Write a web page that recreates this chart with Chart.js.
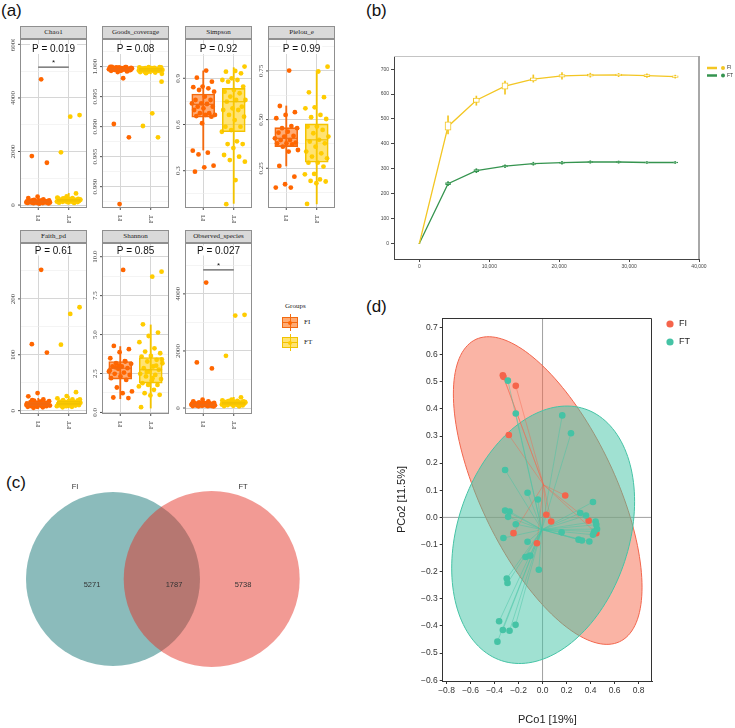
<!DOCTYPE html>
<html>
<head>
<meta charset="utf-8">
<script src="https://cdn.jsdelivr.net/npm/chart.js@4.4.1/dist/chart.umd.min.js"></script>
<style>
  body { margin: 0; width: 735px; height: 728px; position: relative; overflow: hidden; background: #fff; font-family: "Liberation Sans", Arial, sans-serif; }
  canvas { position: absolute; }
  .tag { position: absolute; font-size: 17px; color: #111; line-height: 1; }
  .strip { position: absolute; height: 13px; box-sizing: border-box; background: #d9d9d9; border: 1px solid #8f8f8f; font: 7px "Liberation Serif", serif; color: #1a1a1a; text-align: center; line-height: 11px; }
  .leg { position: absolute; font: 7px "Liberation Serif", serif; color: #1a1a1a; }
  .abs { position: absolute; }
</style>
</head>
<body>
<div class="tag" style="left:1px;top:2px">(a)</div>
<div class="tag" style="left:366px;top:2px">(b)</div>
<div class="tag" style="left:6px;top:474px">(c)</div>
<div class="tag" style="left:366px;top:298px">(d)</div>

<!-- groups legend of panel (a) -->
<div class="leg" style="left:285px;top:302px">Groups</div>
<div class="abs" style="left:289.5px;top:314px;width:1px;height:17px;background:#f26a10"></div>
<div class="abs" style="left:282px;top:317px;width:16px;height:11px;box-sizing:border-box;border:1px solid #f26a10;background:rgba(255,102,0,0.55)"></div>
<div class="abs" style="left:282px;top:322px;width:16px;height:1px;background:#f26a10"></div>
<div class="abs" style="left:288px;top:320.5px;width:4px;height:4px;border-radius:50%;background:#ff6600"></div>
<div class="leg" style="left:304px;top:318px">FI</div>
<div class="abs" style="left:289.5px;top:334px;width:1px;height:17px;background:#f2c200"></div>
<div class="abs" style="left:282px;top:337px;width:16px;height:11px;box-sizing:border-box;border:1px solid #f2c200;background:rgba(255,204,0,0.55)"></div>
<div class="abs" style="left:282px;top:342px;width:16px;height:1px;background:#f2c200"></div>
<div class="abs" style="left:288px;top:340.5px;width:4px;height:4px;border-radius:50%;background:#ffcc00"></div>
<div class="leg" style="left:304px;top:338px">FT</div>

<script>
// ---------- (a) alpha diversity ----------
const groups = ['FI', 'FT'];
const alphaNames = ['Chao1', 'Goods_coverage', 'Simpson', 'Pielou_e', 'Faith_pd', 'Shannon', 'Observed_species'];
const alphaP = ['P = 0.019', 'P = 0.08', 'P = 0.92', 'P = 0.99', 'P = 0.61', 'P = 0.85', 'P = 0.027'];
const alphaTicks = [
  [0, 2000, 4000, 6000],
  [0.980, 0.985, 0.990, 0.995, 1.000],
  [0.3, 0.6, 0.9],
  [0.25, 0.50, 0.75],
  [0, 100, 200],
  [0, 2.5, 5, 7.5, 10],
  [0, 2000, 4000]
];
const alphaTickLabels = [
  ['0', '2000', '4000', '6000'],
  ['0.980', '0.985', '0.990', '0.995', '1.000'],
  ['0.3', '0.6', '0.9'],
  ['0.25', '0.50', '0.75'],
  ['0', '100', '200'],
  ['0.0', '2.5', '5.0', '7.5', '10.0'],
  ['0', '2000', '4000']
];
const alphaRange = [[-110, 6200], [0.97645, 1.0046], [0.058, 1.155], [0.046, 0.914], [-6, 300], [-0.1, 10.88], [-210, 5783]];

const chao1FI = [4694, 1830, 1580, 311, 260, 215, 190, 170, 160, 150, 145, 140, 135, 130, 125, 120, 118, 115, 110, 105, 100, 98, 95, 90, 85, 80, 75, 70, 60, 50, 140, 125, 110, 95, 160, 175];
const chao1FT = [3360, 3300, 1968, 435, 320, 280, 260, 245, 230, 220, 210, 205, 200, 195, 190, 185, 180, 175, 170, 165, 160, 155, 150, 145, 140, 135, 130, 125, 120, 110, 100, 90, 80, 240, 215, 190, 170, 150, 130, 260, 200, 180];
const goodsFI = [0.99806, 0.99044, 0.98822, 0.97711, 0.99995, 0.9999, 0.99985, 0.9998, 0.99975, 0.9997, 0.99965, 0.9996, 0.99955, 0.9995, 0.99945, 0.9994, 0.99935, 0.9993, 0.9999, 0.9998, 0.9997, 0.9996, 0.9995, 0.9994, 0.99985, 0.99975, 0.99965, 0.99955, 0.99945, 0.99935, 0.99995, 0.9992, 0.9991];
const goodsFT = [0.9975, 0.99222, 0.99011, 0.98822, 0.9999, 0.99985, 0.9998, 0.99975, 0.9997, 0.99965, 0.9996, 0.99955, 0.9995, 0.99945, 0.9994, 0.99935, 0.9993, 0.9992, 0.9991, 0.999, 0.9989, 0.99985, 0.99975, 0.99965, 0.99955, 0.99945, 0.99935, 0.99925, 0.99915, 0.9999, 0.9997, 0.9995, 0.9993, 0.99905, 0.9988, 0.9996, 0.9994];
const simpsonFI = [0.95, 0.904, 0.878, 0.846, 0.842, 0.835, 0.824, 0.813, 0.781, 0.759, 0.759, 0.737, 0.737, 0.733, 0.716, 0.716, 0.705, 0.694, 0.673, 0.673, 0.662, 0.662, 0.655, 0.651, 0.608, 0.43, 0.417, 0.406, 0.333, 0.322, 0.294];
const simpsonFT = [0.976, 0.948, 0.943, 0.932, 0.9, 0.889, 0.889, 0.878, 0.846, 0.824, 0.813, 0.803, 0.781, 0.759, 0.759, 0.748, 0.716, 0.705, 0.694, 0.694, 0.662, 0.651, 0.629, 0.586, 0.586, 0.564, 0.553, 0.491, 0.473, 0.473, 0.447, 0.402, 0.391, 0.369, 0.359, 0.239, 0.083];
const pielouFI = [0.752, 0.57, 0.538, 0.524, 0.507, 0.467, 0.456, 0.456, 0.438, 0.433, 0.416, 0.413, 0.404, 0.395, 0.395, 0.382, 0.378, 0.378, 0.373, 0.361, 0.344, 0.336, 0.262, 0.207, 0.168, 0.151, 0.151];
const pielouFT = [0.772, 0.747, 0.64, 0.615, 0.563, 0.558, 0.524, 0.512, 0.503, 0.464, 0.464, 0.447, 0.43, 0.413, 0.396, 0.387, 0.378, 0.361, 0.336, 0.327, 0.31, 0.301, 0.279, 0.279, 0.259, 0.221, 0.219, 0.193, 0.185, 0.182, 0.173, 0.067];
const faithFI = [252, 119, 104, 31.5, 25.6, 20, 18, 17, 16, 15, 14, 14, 13, 13, 12, 12, 11, 11, 10, 10, 9, 9, 8, 8, 7, 7, 6, 5, 15, 13, 11, 9, 12, 10, 16, 19];
const faithFT = [185, 173, 118, 33, 26, 22, 20, 19, 18, 17, 16, 15, 15, 14, 14, 13, 13, 12, 12, 11, 11, 10, 10, 9, 9, 8, 8, 7, 6, 18, 16, 14, 12, 10, 20, 17, 13, 11];
const shannonFI = [9.15, 4.27, 4.06, 3.87, 3.48, 3.27, 3.16, 3.12, 2.95, 2.95, 2.84, 2.8, 2.63, 2.56, 2.48, 2.41, 2.31, 2.2, 2.09, 1.6, 1.35, 1.24, 0.96, 0.92, 3.0, 2.7, 3.3, 2.9];
const shannonFT = [9.04, 8.72, 5.66, 5.13, 4.91, 4.51, 4.12, 3.91, 3.8, 3.63, 3.59, 3.38, 3.27, 3.16, 2.95, 2.84, 2.74, 2.63, 2.48, 2.41, 2.31, 2.14, 2.05, 1.88, 1.77, 1.77, 1.67, 1.45, 1.24, 1.13, 1.09, 0.34, 3.0, 2.6, 3.4, 2.2];
const obsFI = [4396, 1597, 1388, 290, 233, 233, 200, 180, 170, 160, 150, 145, 140, 130, 125, 120, 115, 110, 105, 100, 95, 90, 85, 80, 75, 70, 65, 60, 55, 140, 120, 100, 160, 110];
const obsFT = [3265, 3241, 1830, 373, 290, 270, 250, 240, 230, 220, 210, 200, 195, 190, 185, 180, 175, 170, 165, 160, 155, 150, 145, 140, 135, 130, 120, 110, 100, 90, 80, 70, 60, 250, 210, 180, 150, 120, 230, 200];

// box stats: [lower whisker, q1, median, q3, upper whisker]
const chao1BoxFI = [50, 95, 125, 155, 311], chao1BoxFT = [80, 140, 180, 215, 435];
const goodsBoxFI = [0.9991, 0.9994, 0.99955, 0.99975, 1.0], goodsBoxFT = [0.9988, 0.9992, 0.99945, 0.9997, 0.99995];
const simpsonBoxFI = [0.434, 0.647, 0.731, 0.798, 0.948], simpsonBoxFT = [0.088, 0.553, 0.748, 0.835, 0.969];
const pielouBoxFI = [0.262, 0.361, 0.404, 0.459, 0.57], pielouBoxFT = [0.067, 0.281, 0.396, 0.478, 0.747];
const faithBoxFI = [4, 9, 11.5, 15, 22], faithBoxFT = [5, 10, 13, 17, 26];
const shannonBoxFI = [0.88, 2.14, 2.84, 3.27, 4.23], shannonBoxFT = [0.28, 1.88, 2.74, 3.53, 5.62];
const obsBoxFI = [50, 85, 115, 150, 290], obsBoxFT = [60, 130, 175, 220, 373];
const chao1Sig = 5150, obsSig = 4840;

// ---------- (b) rarefaction ----------
const rareX = [0, 4100, 8150, 12250, 16300, 20400, 24450, 28500, 32550, 36600];
const rareFI = [0, 470, 575, 632, 660, 673, 676, 677, 674, 670];
const rareFIq1 = [0, 455, 566, 620, 653, 668, 672, 674, 670, 667];
const rareFIq3 = [0, 488, 584, 645, 665, 678, 680, 680, 678, 673];
const rareFIlo = [0, 440, 555, 600, 648, 660, 668, 670, 667, 664];
const rareFIhi = [0, 512, 592, 652, 677, 686, 684, 683, 681, 676];
const rareFT = [0, 240, 292, 310, 320, 324, 327, 327, 325, 325];
const rareFTq1 = [0, 236, 288, 307, 317, 321, 325, 325, 323, 323];
const rareFTq3 = [0, 244, 296, 313, 323, 327, 329, 329, 327, 327];
const rareFTlo = [0, 232, 284, 304, 314, 318, 322, 322, 321, 321];
const rareFThi = [0, 248, 300, 316, 326, 330, 332, 331, 329, 329];
const rareXTicks = [0, 10000, 20000, 30000, 40000];
const rareYTicks = [0, 100, 200, 300, 400, 500, 600, 700];

// ---------- (c) venn ----------
const vennNames = ['FI', 'FT'];
const vennCounts = ['5271', '1787', '5738'];

// ---------- (d) PCoA ----------
const pcoaFIx = [-0.331, -0.326, -0.223, -0.281, 0.189, 0.031, 0.072, 0.384, -0.242, -0.047, 0.448];
const pcoaFIy = [0.524, 0.518, 0.485, 0.304, 0.081, 0.010, -0.015, -0.012, -0.058, -0.095, -0.058];
const pcoaFTx = [-0.289, -0.223, 0.164, 0.237, -0.312, -0.125, -0.039, -0.312, -0.275, -0.287, -0.223, -0.326, -0.125, 0.159, 0.314, 0.362, 0.420, 0.442, 0.448, 0.454, 0.431, 0.420, 0.300, 0.328, 0.390, -0.142, -0.103, -0.031, -0.298, -0.292, -0.362, -0.331, -0.275, -0.225, -0.376];
const pcoaFTy = [0.504, 0.383, 0.376, 0.310, 0.175, 0.091, 0.066, 0.025, 0.022, 0.002, -0.025, -0.076, -0.090, -0.055, 0.016, 0.007, 0.057, -0.015, -0.027, -0.043, -0.052, -0.064, -0.082, -0.085, -0.089, -0.146, -0.141, -0.193, -0.225, -0.242, -0.383, -0.415, -0.418, -0.396, -0.458];
const pcoaFICentroid = [0.008, 0.12];
const pcoaFTCentroid = [-0.006, -0.045];
// confidence ellipses: [cx, cy, sdx, sdy, r]
const ellipseFI = [0.043, 0.099, 0.786, 0.567, -0.628];
const ellipseFT = [0.005, -0.064, 0.762, 0.4745, 0.259];
const pcoaXTicks = [-0.8, -0.6, -0.4, -0.2, 0, 0.2, 0.4, 0.6, 0.8];
const pcoaYTicks = [-0.6, -0.5, -0.4, -0.3, -0.2, -0.1, 0, 0.1, 0.2, 0.3, 0.4, 0.5, 0.6, 0.7];

const SANS = '"Liberation Sans", Arial, sans-serif';
const SERIF = '"Liberation Serif", serif';
const FI_PT = '#ff6600', FT_PT = '#ffcc00';
const FI_LINE = '#f26a10', FT_LINE = '#f2c200';
const FI_BOX = 'rgba(255,102,0,0.55)', FT_BOX = 'rgba(255,204,0,0.55)';
const BOX_W = 23;

const jitter = i => (((i + 1) * 0.6180339887) % 1 - 0.5) * 0.8;
const xy = (xs, ys) => xs.map((x, i) => ({x: x, y: ys[i]}));
const span = (xs, lo, hi) => xs.map((x, i) => ({x: x, y: [lo[i], hi[i]]}));

function makeCanvas(left, top, w, h) {
  const cv = document.createElement('canvas');
  cv.width = w; cv.height = h;
  cv.style.left = left + 'px'; cv.style.top = top + 'px';
  document.body.appendChild(cv);
  return cv;
}

const panelLeft = [20, 102, 185, 268, 20, 102, 185];
const panelTop = [39, 39, 39, 39, 243, 243, 243];
const panelH = [169, 169, 169, 169, 171, 171, 171];
const panelW = 67;

function alphaPanel(k, fi, ft, boxFI, boxFT, sig) {
  const left = panelLeft[k], top = panelTop[k], h = panelH[k];
  const strip = document.createElement('div');
  strip.className = 'strip';
  strip.style.left = left + 'px';
  strip.style.top = (top - 13) + 'px';
  strip.style.width = panelW + 'px';
  strip.textContent = alphaNames[k];
  document.body.appendChild(strip);

  const cv = makeCanvas(left - 20, top, panelW + 20, h + 22);
  const majors = alphaTicks[k];
  const step = majors[1] - majors[0];
  const [ymin, ymax] = alphaRange[k];
  const minors = [];
  for (let v = majors[0] - step / 2; v < ymax; v += step) if (v > ymin) minors.push(v);

  const datasets = [
    { type: 'scatter', data: fi.map((v, i) => ({x: 1 + jitter(i), y: v})), backgroundColor: FI_PT, pointRadius: 2.4, borderWidth: 0, order: 1 },
    { type: 'scatter', data: ft.map((v, i) => ({x: 2 + jitter(i + 7), y: v})), backgroundColor: FT_PT, pointRadius: 2.4, borderWidth: 0, order: 1 },
    { type: 'bar', data: [{x: 1, y: [boxFI[1], boxFI[3]]}, {x: 2, y: [boxFT[1], boxFT[3]]}], backgroundColor: [FI_BOX, FT_BOX], borderColor: [FI_LINE, FT_LINE], borderWidth: 1, borderSkipped: false, barThickness: BOX_W, grouped: false, order: 0 },
    { type: 'bar', data: [{x: 1, y: [boxFI[0], boxFI[4]]}, {x: 2, y: [boxFT[0], boxFT[4]]}], backgroundColor: [FI_LINE, FT_LINE], barThickness: 1.2, grouped: false, order: 2 }
  ];
  if (sig !== undefined) {
    datasets.push({ type: 'line', data: [{x: 1, y: sig}, {x: 2, y: sig}], borderColor: '#333', borderWidth: 1, pointRadius: 0, showLine: true, order: 0 });
  }

  new Chart(cv, {
    type: 'scatter',
    data: { datasets: datasets },
    options: {
      responsive: false, animation: false, events: [],
      layout: { autoPadding: false, padding: { left: 20, bottom: 22, top: 0, right: 0 } },
      plugins: { legend: { display: false }, tooltip: { enabled: false } },
      scales: {
        x: {
          type: 'linear', min: 0.4, max: 2.6, offset: false,
          afterBuildTicks: s => { s.ticks = [{value: 1}, {value: 2}]; },
          ticks: { display: false },
          grid: { drawTicks: false, offset: false, color: '#d6d6d6', lineWidth: 1 },
          border: { display: false }
        },
        y: {
          type: 'linear', min: ymin, max: ymax, beginAtZero: false,
          afterBuildTicks: s => { s.ticks = majors.map(v => ({value: v, major: true})).concat(minors.map(v => ({value: v}))); },
          ticks: { display: false },
          grid: { drawTicks: false, color: c => (c.tick && c.tick.major) ? '#d6d6d6' : '#ededed', lineWidth: c => (c.tick && c.tick.major) ? 1 : 0.6 },
          border: { display: false }
        }
      }
    },
    plugins: [{
      id: 'alphaDeco' + k,
      afterDatasetsDraw(chart) {
        const {ctx, scales: {x, y}} = chart;
        ctx.save();
        [[1, boxFI, FI_LINE], [2, boxFT, FT_LINE]].forEach(([g, b, col]) => {
          const px = x.getPixelForValue(g), py = y.getPixelForValue(b[2]);
          ctx.strokeStyle = col; ctx.lineWidth = 1.2;
          ctx.beginPath(); ctx.moveTo(px - BOX_W / 2, py); ctx.lineTo(px + BOX_W / 2, py); ctx.stroke();
        });
        ctx.restore();
      },
      afterDraw(chart) {
        const {ctx, chartArea: a, scales: {x, y}} = chart;
        ctx.save();
        ctx.strokeStyle = '#8f8f8f'; ctx.lineWidth = 1;
        ctx.strokeRect(a.left + 0.5, a.top + 0.5, a.width - 1, a.height - 1);
        ctx.fillStyle = '#4d4d4d';
        ctx.strokeStyle = '#4d4d4d';
        ctx.font = '7px ' + SERIF;
        ctx.textAlign = 'center'; ctx.textBaseline = 'middle';
        majors.forEach((v, i) => {
          const py = y.getPixelForValue(v);
          ctx.beginPath(); ctx.moveTo(a.left - 2, py); ctx.lineTo(a.left, py); ctx.stroke();
          ctx.save(); ctx.translate(a.left - 7, py); ctx.rotate(-Math.PI / 2);
          ctx.fillText(alphaTickLabels[k][i], 0, 0); ctx.restore();
        });
        groups.forEach((gName, i) => {
          const px = x.getPixelForValue(i + 1);
          ctx.beginPath(); ctx.moveTo(px, a.bottom); ctx.lineTo(px, a.bottom + 2); ctx.stroke();
          ctx.save(); ctx.translate(px, a.bottom + 7); ctx.rotate(-Math.PI / 2);
          ctx.textAlign = 'right'; ctx.fillText(gName, 0, 0); ctx.restore();
        });
        // p value label
        ctx.font = '10px ' + SANS;
        const cx = (a.left + a.right) / 2, cy = a.top + (k < 4 ? 10 : 7.5);
        const tw = ctx.measureText(alphaP[k]).width;
        ctx.fillStyle = '#fff';
        ctx.fillRect(cx - tw / 2 - 2, cy - 5, tw + 4, 10);
        ctx.fillStyle = '#111';
        ctx.fillText(alphaP[k], cx, cy + 0.5);
        if (sig !== undefined) {
          ctx.font = '8px ' + SANS;
          ctx.textBaseline = 'alphabetic';
          ctx.fillText('*', cx, y.getPixelForValue(sig) - 2.4);
        }
        ctx.restore();
      }
    }]
  });
}

alphaPanel(0, chao1FI, chao1FT, chao1BoxFI, chao1BoxFT, chao1Sig);
alphaPanel(1, goodsFI, goodsFT, goodsBoxFI, goodsBoxFT);
alphaPanel(2, simpsonFI, simpsonFT, simpsonBoxFI, simpsonBoxFT);
alphaPanel(3, pielouFI, pielouFT, pielouBoxFI, pielouBoxFT);
alphaPanel(4, faithFI, faithFT, faithBoxFI, faithBoxFT);
alphaPanel(5, shannonFI, shannonFT, shannonBoxFI, shannonBoxFT);
alphaPanel(6, obsFI, obsFT, obsBoxFI, obsBoxFT, obsSig);

// ---------- (b) ----------
const B_FI = '#f3c623', B_FT = '#35944f';
new Chart(makeCanvas(370, 40, 365, 250), {
  type: 'line',
  data: { datasets: [
    { type: 'line', data: xy(rareX, rareFI), borderColor: B_FI, borderWidth: 1.3, pointRadius: 0, order: 3 },
    { type: 'line', data: xy(rareX, rareFT), borderColor: B_FT, borderWidth: 1.3, pointRadius: 0, order: 3 },
    { type: 'bar', data: span(rareX, rareFIlo, rareFIhi), backgroundColor: B_FI, barThickness: 1, grouped: false, order: 2 },
    { type: 'bar', data: span(rareX, rareFTlo, rareFThi), backgroundColor: B_FT, barThickness: 1, grouped: false, order: 2 },
    { type: 'bar', data: span(rareX, rareFIq1, rareFIq3), backgroundColor: '#fff', borderColor: B_FI, borderWidth: 1, borderSkipped: false, barThickness: 6, grouped: false, order: 1 },
    { type: 'bar', data: span(rareX, rareFTq1, rareFTq3), backgroundColor: '#8fc89f', borderColor: B_FT, borderWidth: 1, borderSkipped: false, barThickness: 5, grouped: false, order: 1 }
  ]},
  options: {
    responsive: false, animation: false, events: [],
    layout: { autoPadding: false, padding: { left: 0, top: 16, right: 36, bottom: 0 } },
    plugins: { legend: { display: false }, tooltip: { enabled: false } },
    scales: {
      x: {
        type: 'linear', min: -3630, max: 40000, offset: false,
        afterBuildTicks: s => { s.ticks = rareXTicks.map(v => ({value: v})); },
        afterFit: s => { s.height = 31; s.paddingLeft = 0; s.paddingRight = 0; },
        ticks: { autoSkip: false, maxRotation: 0, font: { size: 5, family: SANS }, color: '#444', padding: 2, callback: v => v.toLocaleString('en-US') },
        grid: { drawOnChartArea: false, offset: false, tickLength: 3, tickColor: '#444' },
        border: { color: '#444' }
      },
      y: {
        type: 'linear', min: -63, max: 753, beginAtZero: false,
        afterBuildTicks: s => { s.ticks = rareYTicks.map(v => ({value: v})); },
        afterFit: s => { s.width = 24; s.paddingTop = 0; s.paddingBottom = 0; },
        ticks: { autoSkip: false, font: { size: 5, family: SANS }, color: '#444', padding: 2 },
        grid: { drawOnChartArea: false, tickLength: 3, tickColor: '#444' },
        border: { color: '#444' }
      }
    }
  },
  plugins: [{
    id: 'rareDeco',
    afterDraw(chart) {
      const {ctx, chartArea: a} = chart;
      ctx.save();
      ctx.strokeStyle = '#c4c4c4'; ctx.lineWidth = 1;
      ctx.beginPath(); ctx.moveTo(a.left, a.top + 0.5); ctx.lineTo(a.right, a.top + 0.5); ctx.stroke();
      ctx.strokeStyle = '#a8a8a8'; ctx.lineWidth = 2;
      ctx.beginPath(); ctx.moveTo(a.right, a.top); ctx.lineTo(a.right, a.bottom); ctx.stroke();
      ctx.font = '5px ' + SANS; ctx.textBaseline = 'middle'; ctx.fillStyle = '#333';
      groups.forEach((gName, i) => {
        const col = i ? B_FT : B_FI, ly = a.top + 12 + i * 7.5;
        ctx.strokeStyle = col; ctx.lineWidth = 2.5;
        ctx.beginPath(); ctx.moveTo(a.right + 8, ly); ctx.lineTo(a.right + 18, ly); ctx.stroke();
        ctx.fillStyle = col; ctx.beginPath(); ctx.arc(a.right + 24, ly, 2, 0, Math.PI * 2); ctx.fill();
        ctx.fillStyle = '#333'; ctx.fillText(gName, a.right + 28, ly);
      });
      ctx.restore();
    }
  }]
});

// ---------- (c) ----------
new Chart(makeCanvas(0, 440, 370, 288), {
  type: 'bubble',
  data: { datasets: [{
    data: vennNames.map((n, i) => ({x: i, y: 0})),
    backgroundColor: ['rgba(15,114,114,0.483)', 'rgba(228,46,33,0.483)'],
    borderWidth: 0, radius: [87, 88], clip: false
  }]},
  options: {
    responsive: false, animation: false, events: [],
    layout: { autoPadding: false, padding: 0 },
    plugins: { legend: { display: false }, tooltip: { enabled: false } },
    scales: {
      x: { display: false, min: -1.1449, max: 2.6039 },
      y: { display: false, min: -1.072, max: 1 }
    }
  },
  plugins: [{
    id: 'vennText',
    afterDatasetsDraw(chart) {
      const {ctx, scales: {x, y}} = chart;
      ctx.save();
      ctx.fillStyle = '#333'; ctx.font = '7.5px ' + SANS;
      ctx.textAlign = 'center'; ctx.textBaseline = 'middle';
      [-0.385, 1.317].forEach((vx, i) => ctx.fillText(vennNames[i], x.getPixelForValue(vx), y.getPixelForValue(0.664)));
      [-0.213, 0.618, 1.317].forEach((vx, i) => ctx.fillText(vennCounts[i], x.getPixelForValue(vx), y.getPixelForValue(-0.043)));
      ctx.restore();
    }
  }]
});

// ---------- (d) ----------
const D_FI = '#f5644b', D_FT = '#45c3a5';
const fmtSigned = v => (v < -1e-9 ? '\u2212' : '') + Math.abs(v).toFixed(1);

function drawEllipse(ctx, x, y, e, fill, stroke) {
  const [cx, cy, sx, sy, r] = e;
  ctx.beginPath();
  for (let k = 0; k <= 160; k++) {
    const t = k / 160 * 2 * Math.PI;
    const ex = cx + sx * Math.cos(t);
    const ey = cy + sy * (r * Math.cos(t) + Math.sqrt(1 - r * r) * Math.sin(t));
    const px = x.getPixelForValue(ex), py = y.getPixelForValue(ey);
    if (k) ctx.lineTo(px, py); else ctx.moveTo(px, py);
  }
  ctx.closePath();
  ctx.fillStyle = fill; ctx.fill();
  ctx.strokeStyle = stroke; ctx.lineWidth = 1; ctx.stroke();
}

new Chart(makeCanvas(370, 290, 365, 438), {
  type: 'scatter',
  data: { datasets: [
    { data: xy(pcoaFIx, pcoaFIy), backgroundColor: D_FI, pointRadius: 3.3, borderWidth: 0, order: 1 },
    { data: xy(pcoaFTx, pcoaFTy), backgroundColor: D_FT, pointRadius: 3.3, borderWidth: 0, order: 0 }
  ]},
  options: {
    responsive: false, animation: false, events: [],
    layout: { autoPadding: false, padding: { left: 22, top: 28, right: 83, bottom: 0 } },
    plugins: { legend: { display: false }, tooltip: { enabled: false } },
    scales: {
      x: {
        type: 'linear', min: -0.832, max: 0.912,
        afterBuildTicks: s => { s.ticks = pcoaXTicks.map(v => ({value: v})); },
        afterFit: s => { s.height = 47; s.paddingLeft = 0; s.paddingRight = 0; },
        ticks: { autoSkip: false, maxRotation: 0, font: { size: 8.5, family: SANS }, color: '#333', padding: 2, callback: fmtSigned },
        grid: { drawOnChartArea: false, tickLength: 3, tickColor: '#333' },
        border: { color: '#333' },
        title: { display: true, text: 'PCo1 [19%]', font: { size: 11, family: SANS }, color: '#222', padding: { top: 0, bottom: 1 } }
      },
      y: {
        type: 'linear', min: -0.603, max: 0.735,
        afterBuildTicks: s => { s.ticks = pcoaYTicks.map(v => ({value: v})); },
        afterFit: s => { s.width = 50.7; s.paddingTop = 0; s.paddingBottom = 0; },
        ticks: { autoSkip: false, font: { size: 8.5, family: SANS }, color: '#333', padding: 2, callback: fmtSigned },
        grid: { drawOnChartArea: false, tickLength: 3, tickColor: '#333' },
        border: { color: '#333' },
        title: { display: true, text: 'PCo2 [11.5%]', font: { size: 11, family: SANS }, color: '#222', padding: { top: 3, bottom: 0 } }
      }
    }
  },
  plugins: [{
    id: 'pcoaDeco',
    beforeDatasetsDraw(chart) {
      const {ctx, chartArea: a, scales: {x, y}} = chart;
      ctx.save();
      ctx.strokeStyle = '#a0a0a0'; ctx.lineWidth = 1;
      const x0 = x.getPixelForValue(0), y0 = y.getPixelForValue(0);
      ctx.beginPath(); ctx.moveTo(x0, a.top); ctx.lineTo(x0, a.bottom); ctx.moveTo(a.left, y0); ctx.lineTo(a.right, y0); ctx.stroke();
      drawEllipse(ctx, x, y, ellipseFI, 'rgba(245,105,75,0.5)', '#f2654c');
      drawEllipse(ctx, x, y, ellipseFT, 'rgba(65,195,165,0.5)', '#45c3a5');
      [[pcoaFIx, pcoaFIy, pcoaFICentroid, 'rgba(245,100,75,0.55)'], [pcoaFTx, pcoaFTy, pcoaFTCentroid, 'rgba(69,195,165,0.6)']].forEach(([xs, ys, c, col]) => {
        ctx.strokeStyle = col; ctx.lineWidth = 0.8;
        const cxp = x.getPixelForValue(c[0]), cyp = y.getPixelForValue(c[1]);
        ctx.beginPath();
        xs.forEach((v, i) => { ctx.moveTo(cxp, cyp); ctx.lineTo(x.getPixelForValue(v), y.getPixelForValue(ys[i])); });
        ctx.stroke();
      });
      ctx.restore();
    },
    afterDraw(chart) {
      const {ctx, chartArea: a} = chart;
      ctx.save();
      ctx.strokeStyle = '#333'; ctx.lineWidth = 1;
      ctx.beginPath(); ctx.moveTo(a.left, a.top + 0.5); ctx.lineTo(a.right - 0.5, a.top + 0.5); ctx.lineTo(a.right - 0.5, a.bottom); ctx.stroke();
      ctx.font = '9px ' + SANS; ctx.textBaseline = 'middle'; ctx.textAlign = 'left';
      groups.forEach((gName, i) => {
        const ly = a.top + 6 + i * 18;
        ctx.fillStyle = i ? D_FT : D_FI;
        ctx.beginPath(); ctx.arc(a.right + 18, ly, 3.6, 0, Math.PI * 2); ctx.fill();
        ctx.fillStyle = '#222'; ctx.fillText(gName, a.right + 27, ly);
      });
      ctx.restore();
    }
  }]
});
</script>
</body>
</html>
